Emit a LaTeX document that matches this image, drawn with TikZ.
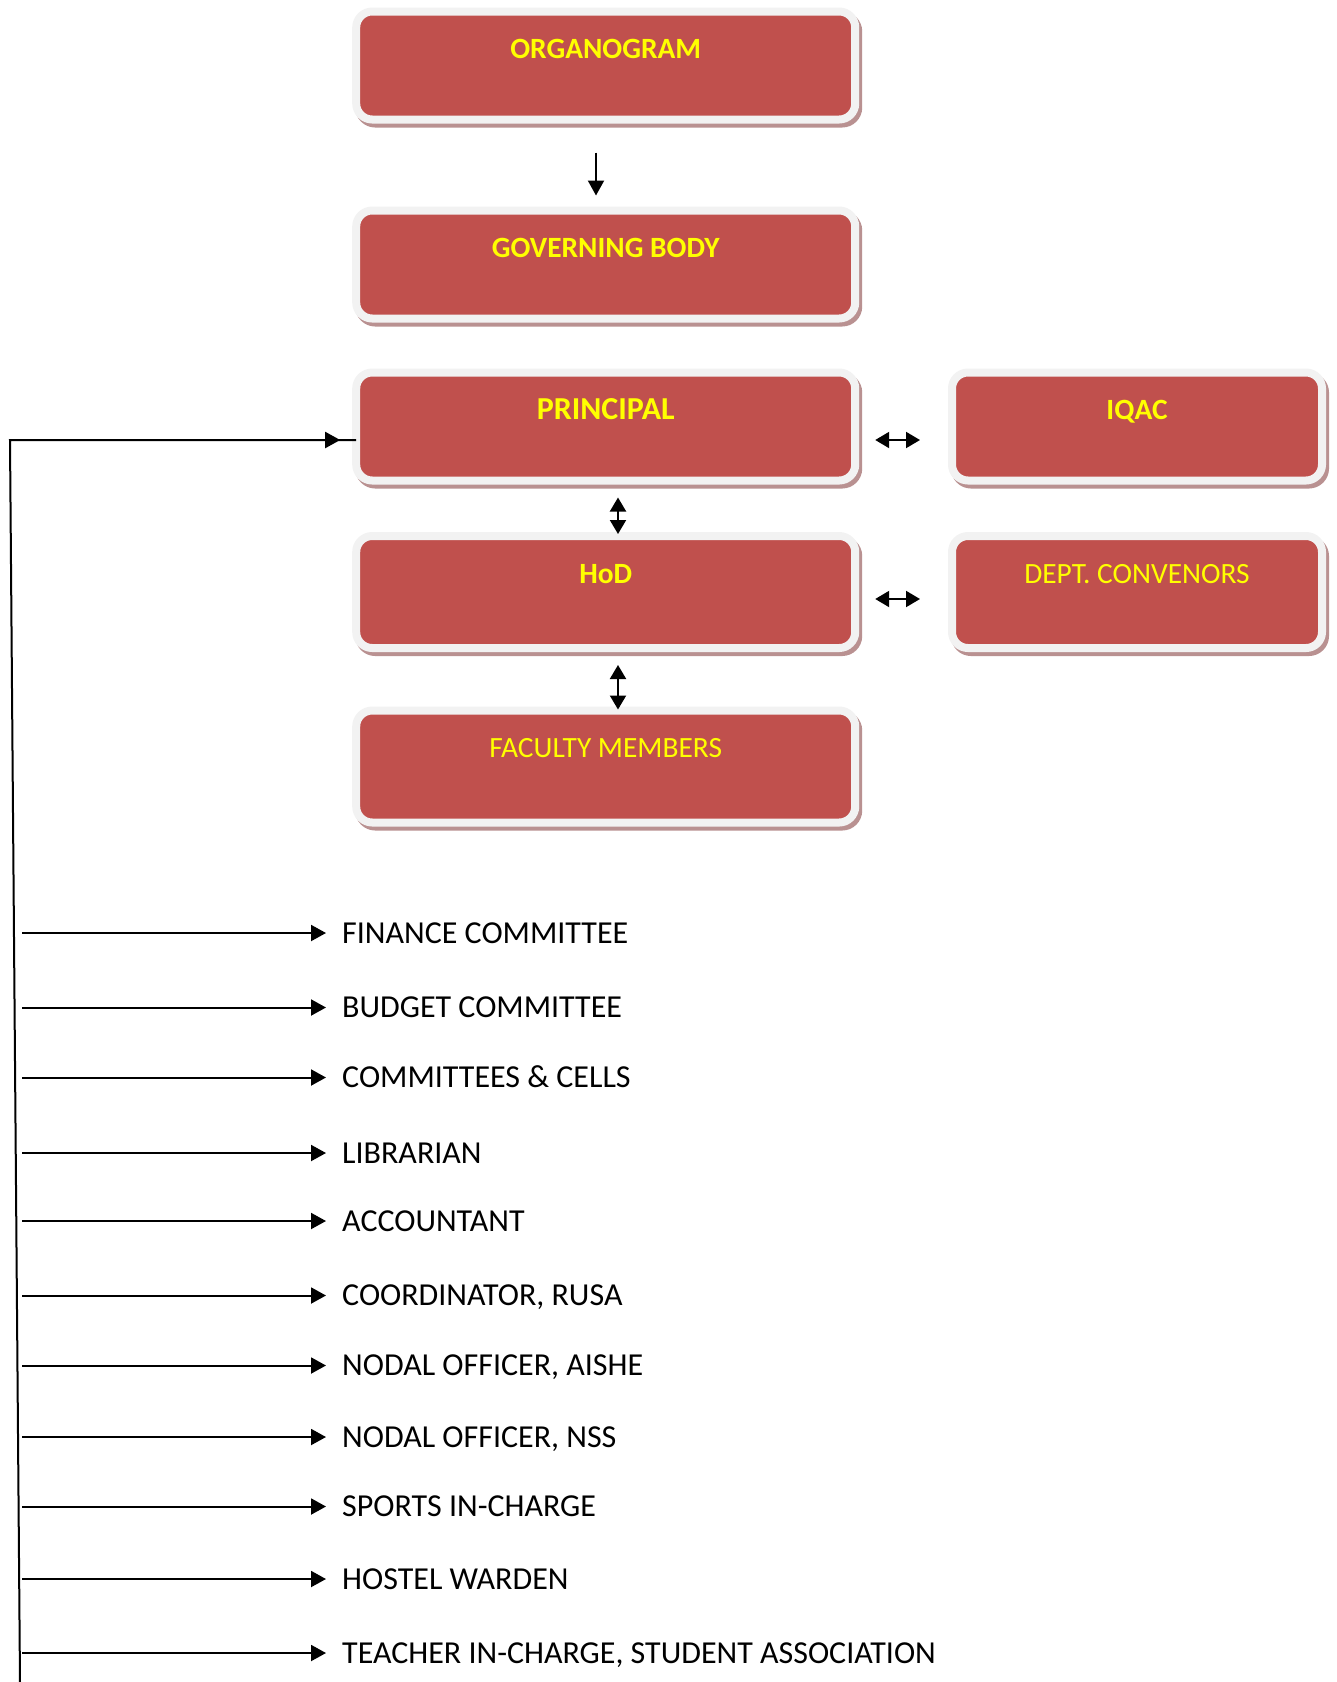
\documentclass[tikz,border=0pt]{standalone}
\usepackage{fontspec}
\setmainfont{Carlito}
\usetikzlibrary{arrows.meta,shadows,calc}
\definecolor{boxred}{HTML}{C0504D}
\definecolor{boxrim}{HTML}{F2F2F2}
\definecolor{boxshadow}{RGB}{185,145,145}
\definecolor{txtyellow}{HTML}{FFFF00}
\begin{document}
\begin{tikzpicture}[x=1pt,y=-1pt,
  orgbox/.style={draw=boxrim, line width=8pt, fill=boxred, rounded corners=16pt,
    minimum width=499pt, inner sep=0pt, outer sep=0pt, text height=47pt, text depth=#1,
    text=txtyellow, font=\fontsize{29.4}{34}\selectfont\bfseries,
    general shadow={draw=boxshadow, fill=boxshadow, line width=8pt, shadow xshift=3pt, shadow yshift=-4pt}},
  orgbox/.default=61pt,
  plainbox/.style={orgbox=#1, font=\fontsize{29.4}{34}\selectfont},
  plainbox/.default=61pt,
  sidebox/.style={minimum width=370pt},
  arr/.style={line width=2pt, -{Triangle[width=16pt,length=15pt]}},
  darr/.style={line width=2pt, {Triangle[width=16pt,length=14pt]}-{Triangle[width=16pt,length=14pt]}},
  conn/.style={line width=2pt},
  itemtext/.style={anchor=west, inner sep=0pt, text height=20.6pt, text depth=0pt,
    font=\fontsize{32}{36}\selectfont}
]
\useasboundingbox (0,0) rectangle (1337,1682);

\node[orgbox] (org) at (605.7,65.5) {ORGANOGRAM};
\node[orgbox] (gov) at (605.7,264.5) {GOVERNING BODY};
\node[orgbox, font=\fontsize{32}{36}\selectfont\bfseries] (pri) at (605.7,426.5) {PRINCIPAL};
\node[orgbox, sidebox] (iqac) at (1137,426.5) {IQAC};
\node[orgbox=65pt] (hod) at (605.7,592) {HoD};
\node[plainbox=65pt, sidebox] (dept) at (1137,592) {DEPT. CONVENORS};
\node[plainbox=65pt] (fac) at (605.7,766.5) {FACULTY MEMBERS};

\draw[arr] ([xshift=-9.7pt,yshift=-33pt]org.south) -- ([xshift=-9.7pt,yshift=15pt]gov.north);
\draw[darr] ([xshift=12.3pt,yshift=-17pt]pri.south) -- ([xshift=12.3pt,yshift=2pt]hod.north);
\draw[darr] ([xshift=12.3pt,yshift=-17pt]hod.south) -- ([xshift=12.3pt,yshift=1pt]fac.north);
\draw[darr] ([xshift=20pt,yshift=-13.5pt]pri.east) -- ([xshift=-32pt,yshift=-13.5pt]iqac.west);
\draw[darr] ([xshift=20pt,yshift=-7pt]hod.east) -- ([xshift=-32pt,yshift=-7pt]dept.west);

\coordinate (corner) at (10,440);
\coordinate (bot) at (20,1682);
\draw[conn] (bot) -- (corner) -- (pri.west |- corner);
\draw[arr] (corner) -- ($(pri.west |- corner)+(-16,0)$);

\foreach \nm/\yy/\tx in {i1/933/{FINANCE COMMITTEE},
  i2/1007.5/{BUDGET COMMITTEE},
  i3/1077.5/{COMMITTEES \& CELLS},
  i4/1153/{LIBRARIAN},
  i5/1221/{ACCOUNTANT},
  i6/1295.5/{COORDINATOR, RUSA},
  i7/1365.5/{NODAL OFFICER, AISHE},
  i8/1437/{NODAL OFFICER, NSS},
  i9/1506.5/{SPORTS IN-CHARGE},
  i10/1579/{HOSTEL WARDEN},
  i11/1653/{TEACHER IN-CHARGE, STUDENT ASSOCIATION}} {
  \node[itemtext] (\nm) at (342,\yy) {\tx};
  \draw[arr] ($(\nm.west)+(-320,0)$) -- ($(\nm.west)+(-16,0)$);
}
\end{tikzpicture}
\end{document}
